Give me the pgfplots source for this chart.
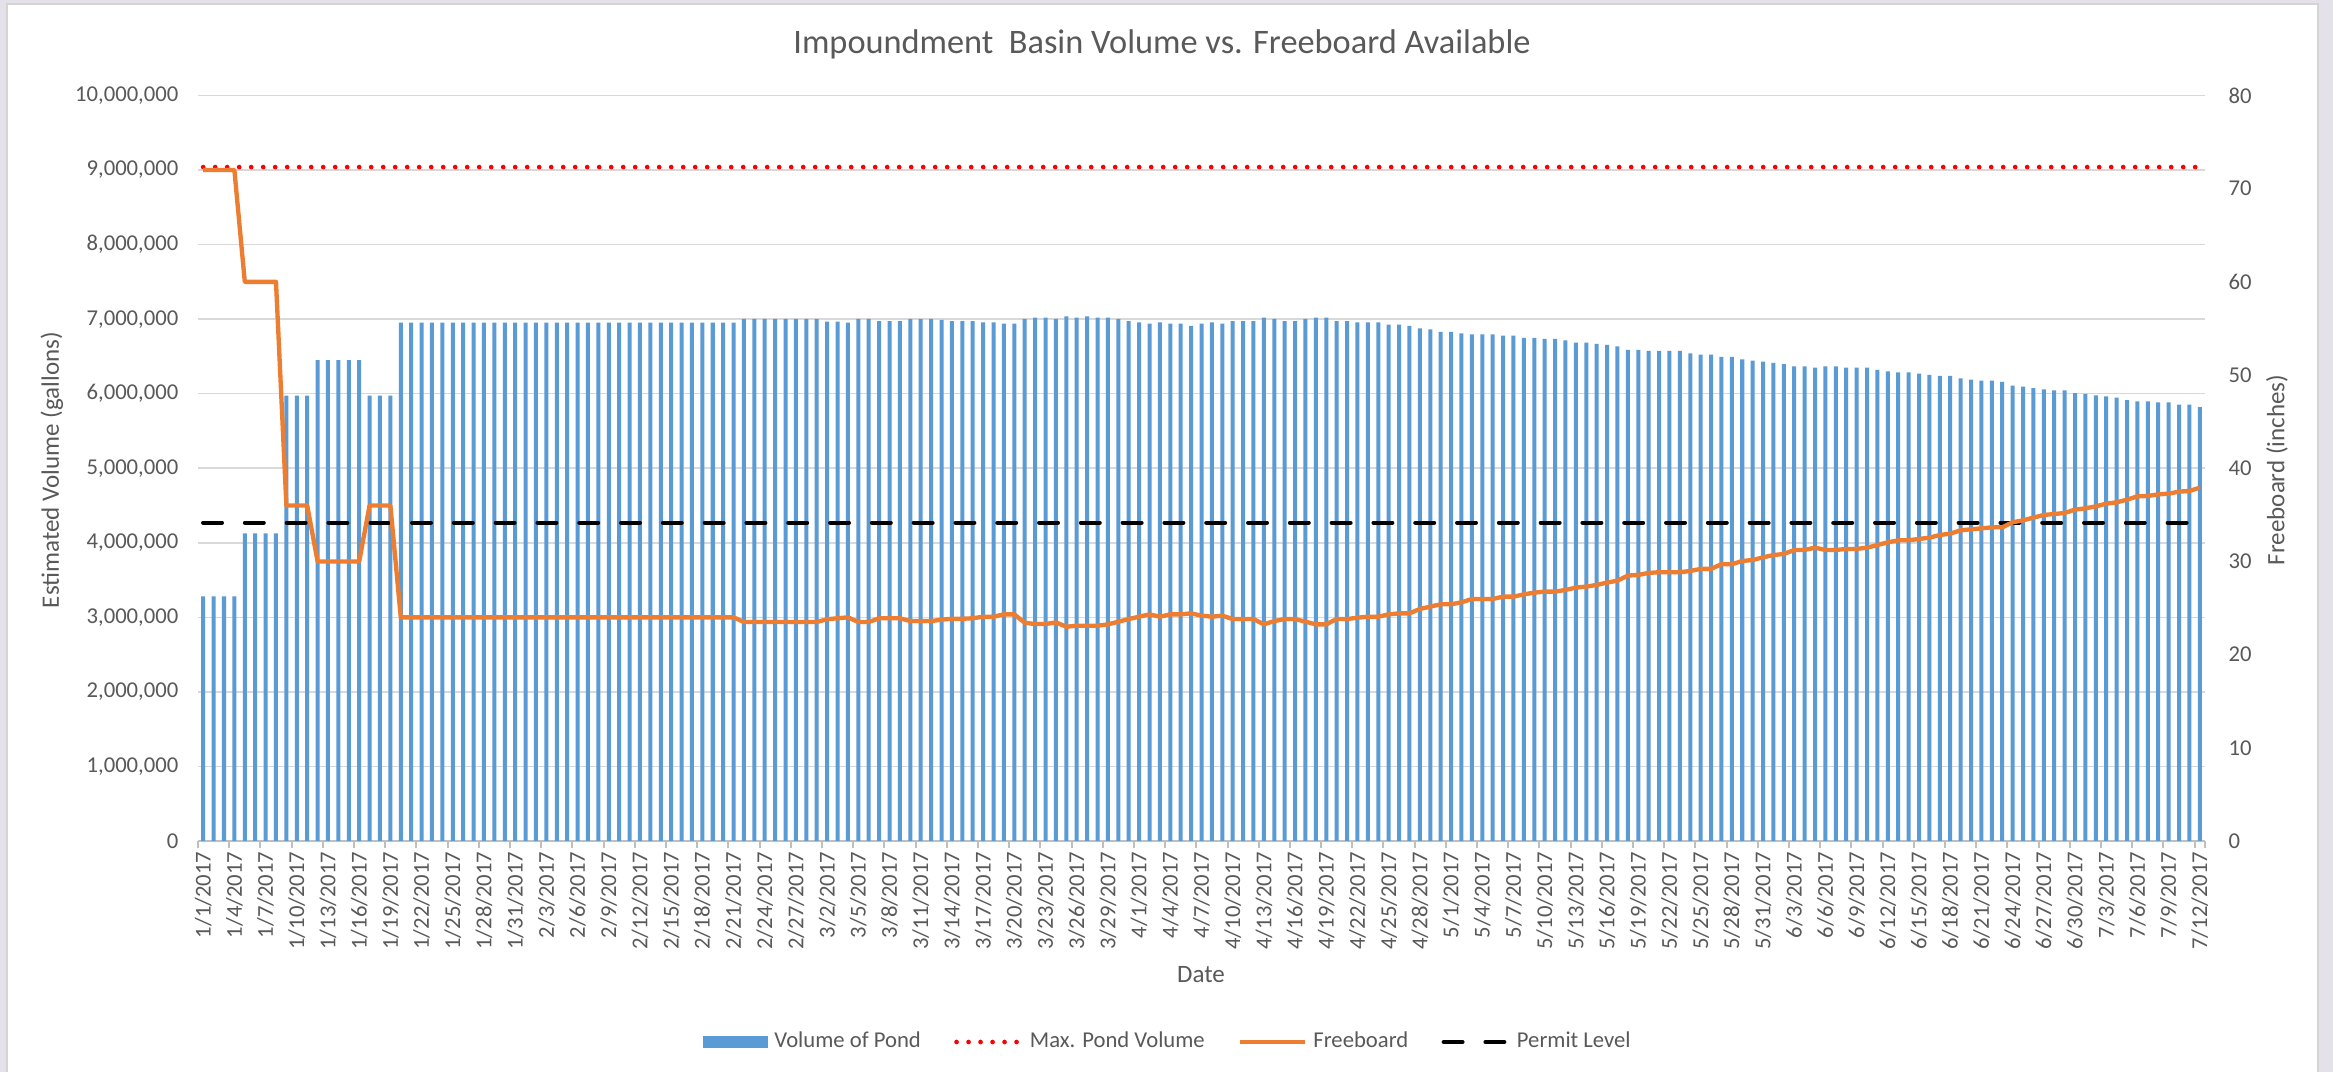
\documentclass[border=0pt]{standalone}
\usepackage{fontspec}
\setmainfont{Carlito}
\usepackage{pgfplots}
\pgfplotsset{compat=1.18}
\usepackage{pgfplotstable}
\definecolor{barblue}{HTML}{5B9BD5}
\definecolor{fborange}{HTML}{ED7D31}
\definecolor{txtgray}{HTML}{595959}
\definecolor{gridgray}{HTML}{D9D9D9}
\definecolor{axisgray}{HTML}{BFBFBF}
\definecolor{bglav}{HTML}{E4E1EA}
\definecolor{framegray}{HTML}{D4D4D4}

\pgfplotstableread{
i vol fb
0 3280000 72
1 3280000 72
2 3280000 72
3 3280000 72
4 4125000 60
5 4125000 60
6 4125000 60
7 4125000 60
8 5975000 36
9 5975000 36
10 5975000 36
11 6450000 30
12 6450000 30
13 6450000 30
14 6450000 30
15 6450000 30
16 5975000 36
17 5975000 36
18 5975000 36
19 6953000 24
20 6953000 24
21 6953000 24
22 6953000 24
23 6953000 24
24 6953000 24
25 6953000 24
26 6953000 24
27 6953000 24
28 6953000 24
29 6953000 24
30 6953000 24
31 6953000 24
32 6953000 24
33 6953000 24
34 6953000 24
35 6953000 24
36 6953000 24
37 6953000 24
38 6953000 24
39 6953000 24
40 6953000 24
41 6953000 24
42 6953000 24
43 6953000 24
44 6953000 24
45 6953000 24
46 6953000 24
47 6953000 24
48 6953000 24
49 6953000 24
50 6953000 24
51 6953000 24
52 7002000 23.5
53 7002000 23.5
54 7002000 23.5
55 7002000 23.5
56 7002000 23.5
57 7002000 23.5
58 7002000 23.5
59 7002000 23.5
60 6966000 23.8
61 6966000 23.9
62 6953000 24.0
63 7002000 23.5
64 7002000 23.5
65 6975000 23.9
66 6975000 23.9
67 6975000 23.9
68 7002000 23.6
69 7002000 23.6
70 7002000 23.6
71 6989000 23.75
72 6975000 23.85
73 6975000 23.85
74 6975000 23.9
75 6957000 24.07
76 6957000 24.07
77 6940000 24.32
78 6940000 24.32
79 7002000 23.42
80 7020000 23.28
81 7020000 23.28
82 7002000 23.46
83 7038000 22.99
84 7020000 23.1
85 7038000 23.1
86 7020000 23.1
87 7020000 23.25
88 7002000 23.53
89 6975000 23.82
90 6957000 24.07
91 6940000 24.32
92 6957000 24.07
93 6940000 24.32
94 6940000 24.32
95 6909000 24.43
96 6940000 24.18
97 6957000 24.07
98 6940000 24.18
99 6975000 23.82
100 6975000 23.82
101 6975000 23.82
102 7020000 23.25
103 7002000 23.6
104 6975000 23.82
105 6975000 23.82
106 7002000 23.53
107 7020000 23.25
108 7020000 23.25
109 6975000 23.82
110 6975000 23.82
111 6957000 23.96
112 6957000 24.07
113 6957000 24.07
114 6926000 24.32
115 6926000 24.43
116 6909000 24.43
117 6877000 24.90
118 6864000 25.15
119 6828000 25.40
120 6828000 25.40
121 6810000 25.61
122 6797000 25.97
123 6797000 25.97
124 6797000 25.97
125 6779000 26.22
126 6779000 26.22
127 6748000 26.47
128 6748000 26.65
129 6734000 26.76
130 6734000 26.76
131 6716000 26.94
132 6685000 27.19
133 6685000 27.30
134 6667000 27.48
135 6654000 27.73
136 6636000 27.94
137 6587000 28.48
138 6587000 28.55
139 6573000 28.77
140 6573000 28.84
141 6573000 28.84
142 6573000 28.84
143 6542000 28.98
144 6524000 29.20
145 6524000 29.20
146 6493000 29.70
147 6493000 29.70
148 6461000 30.05
149 6443000 30.15
150 6430000 30.44
151 6412000 30.69
152 6398000 30.80
153 6367000 31.23
154 6367000 31.23
155 6349000 31.48
156 6367000 31.23
157 6367000 31.23
158 6349000 31.34
159 6349000 31.34
160 6349000 31.48
161 6318000 31.76
162 6300000 32.05
163 6287000 32.27
164 6287000 32.27
165 6269000 32.41
166 6251000 32.55
167 6238000 32.84
168 6238000 32.98
169 6206000 33.34
170 6188000 33.45
171 6175000 33.55
172 6175000 33.66
173 6157000 33.66
174 6108000 34.20
175 6094000 34.41
176 6076000 34.70
177 6058000 34.99
178 6045000 35.09
179 6045000 35.20
180 6009000 35.56
181 5996000 35.70
182 5978000 35.91
183 5964000 36.20
184 5946000 36.34
185 5915000 36.63
186 5897000 36.99
187 5897000 37.02
188 5884000 37.20
189 5884000 37.27
190 5852000 37.49
191 5852000 37.56
192 5821000 37.92
}\data

\newcommand{\smallfont}{\fontsize{6.8}{8}\selectfont}

\begin{document}
\begin{tikzpicture}
\useasboundingbox (0,0) rectangle (699.9pt,321.6pt);
\fill[bglav] (0,0) rectangle (699.9pt,321.6pt);
\fill[white, draw=framegray, line width=0.6pt] (2.1pt,-1pt) rectangle (695.4pt,320.4pt);

\begin{axis}[
  at={(59.4pt,69.3pt)}, anchor=south west,
  width=602.1pt, height=223.65pt, scale only axis,
  xmin=-0.5, xmax=192.5, ymin=0, ymax=10000000,
  axis x line*=bottom, axis y line*=left,
  y axis line style={draw=none},
  x axis line style={axisgray, line width=0.6pt, -},
  major tick length=0pt,
  ytick={0,1000000,2000000,3000000,4000000,5000000,6000000,7000000,8000000,9000000,10000000},
  scaled y ticks=false,
  yticklabel style={/pgf/number format/fixed, /pgf/number format/precision=0, /pgf/number format/1000 sep={,}, /pgf/number format/assume math mode=true, font=\smallfont, text=txtgray, inner sep=0pt, anchor=east},
  yticklabel shift=5.7pt,
  ymajorgrids, major grid style={gridgray, line width=0.45pt},
  xtick={0,3,...,192},
  xticklabels={1/1/2017,1/4/2017,1/7/2017,1/10/2017,1/13/2017,1/16/2017,1/19/2017,1/22/2017,1/25/2017,1/28/2017,1/31/2017,2/3/2017,2/6/2017,2/9/2017,2/12/2017,2/15/2017,2/18/2017,2/21/2017,2/24/2017,2/27/2017,3/2/2017,3/5/2017,3/8/2017,3/11/2017,3/14/2017,3/17/2017,3/20/2017,3/23/2017,3/26/2017,3/29/2017,4/1/2017,4/4/2017,4/7/2017,4/10/2017,4/13/2017,4/16/2017,4/19/2017,4/22/2017,4/25/2017,4/28/2017,5/1/2017,5/4/2017,5/7/2017,5/10/2017,5/13/2017,5/16/2017,5/19/2017,5/22/2017,5/25/2017,5/28/2017,5/31/2017,6/3/2017,6/6/2017,6/9/2017,6/12/2017,6/15/2017,6/18/2017,6/21/2017,6/24/2017,6/27/2017,6/30/2017,7/3/2017,7/6/2017,7/9/2017,7/12/2017},
  xticklabel style={font=\smallfont, text=txtgray, inner sep=0pt, rotate=90, anchor=east},
  xticklabel shift=3pt,
  extra x ticks={-0.5,2.5,...,191.5,192.5},
  extra x tick labels={},
  extra x tick style={grid=none, major tick length=2.2pt, tick align=outside, tick style={axisgray, line width=0.6pt}},
  clip=false,
  legend columns=4,
  legend cell align=left,
  legend image code/.code={\draw[#1] (0pt,0pt) -- (19.5pt,0pt);},
  legend style={at={(0.4833,-0.2696)}, anchor=center, draw=none, fill=none,
    font=\smallfont, text=txtgray,
    nodes={inner sep=0.6pt},
    /tikz/every odd column/.append style={column sep=1.2pt},
    /tikz/every even column/.append style={column sep=9.4pt}},
]
\addplot[ybar, bar width=0.385, bar shift=0pt, fill=barblue, draw=none,
  legend image code/.code={\fill[barblue] (0pt,-1.7pt) rectangle (19.5pt,1.7pt);}]
  table[x=i, y=vol]{\data};
\addlegendentry{Volume of Pond}
\addplot[red, line width=1.4pt, line cap=round, dash pattern=on 0pt off 3.6pt]
  coordinates {(0,9040000) (192,9040000)};
\addlegendentry{Max. Pond Volume}
\addlegendimage{fborange, line width=1.3pt}
\addlegendentry{Freeboard}
\addplot[black, line width=1.3pt, line cap=round, dash pattern=on 5.6pt off 6.94pt]
  coordinates {(0,4270000) (192,4270000)};
\addlegendentry{Permit Level}
\end{axis}

\begin{axis}[
  at={(59.4pt,69.3pt)}, anchor=south west,
  width=602.1pt, height=223.65pt, scale only axis,
  xmin=-0.5, xmax=192.5, ymin=0, ymax=80,
  axis x line=none, axis y line*=right,
  y axis line style={draw=none},
  major tick length=0pt,
  ytick={0,10,...,80},
  yticklabel style={/pgf/number format/assume math mode=true, font=\smallfont, text=txtgray, inner sep=0pt, anchor=west},
  yticklabel shift=6.9pt,
]
\addplot[fborange, line width=1.3pt, line join=round] table[x=i, y=fb]{\data};
\end{axis}

\node[font=\fontsize{10.3}{12}\selectfont, text=txtgray] at (348.6pt,308.2pt) {Impoundment\ \ Basin Volume vs. Freeboard Available};
\node[rotate=90, font=\fontsize{7.5}{9}\selectfont, text=txtgray] at (15.6pt,180.6pt) {Estimated Volume (gallons)};
\node[rotate=90, font=\fontsize{7.5}{9}\selectfont, text=txtgray] at (683.1pt,180.6pt) {Freeboard (inches)};
\node[font=\fontsize{7.5}{9}\selectfont, text=txtgray] at (360.3pt,29.1pt) {Date};
\end{tikzpicture}
\end{document}
